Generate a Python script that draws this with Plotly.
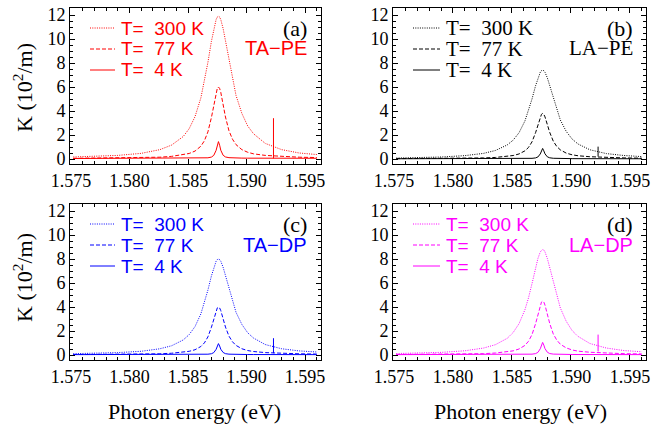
import plotly.graph_objects as go

# Photon energy grid (eV)
X = [1.5752, 1.5770, 1.5790, 1.5810, 1.5826, 1.5836, 1.5846, 1.5851, 1.5856, 1.5861,
     1.5864, 1.5867, 1.5870, 1.5872, 1.5874, 1.5875, 1.5876, 1.5877, 1.5878, 1.5880,
     1.5882, 1.5885, 1.5888, 1.5891, 1.5896, 1.5901, 1.5906, 1.5916, 1.5930, 1.5945, 1.5960]

# (a) TA-PE
A300 = [0.17, 0.21, 0.30, 0.47, 0.78, 1.16, 1.88, 2.53, 3.53, 5.10, 6.43, 8.05, 9.81, 10.87, 11.62, 11.83,
        11.9, 11.83, 11.62, 10.87, 9.85, 8.15, 6.6, 5.3, 3.8, 2.75, 2.1, 1.3, 0.78, 0.5, 0.37]
A77 = [0.06, 0.07, 0.08, 0.11, 0.15, 0.22, 0.34, 0.46, 0.66, 1.07, 1.52, 2.26, 3.46, 4.52, 5.55, 5.88,
       6.0, 5.88, 5.55, 4.55, 3.5, 2.35, 1.65, 1.2, 0.78, 0.56, 0.43, 0.3, 0.2, 0.15, 0.12]
A4 = [0.04, 0.04, 0.045, 0.05, 0.05, 0.055, 0.06, 0.06, 0.065, 0.07, 0.08, 0.1, 0.16, 0.3, 0.72, 1.15,
      1.45, 1.15, 0.73, 0.31, 0.17, 0.11, 0.09, 0.08, 0.075, 0.07, 0.07, 0.065, 0.06, 0.06, 0.06]

# (b) LA-PE
B300 = [0.08, 0.11, 0.165, 0.28, 0.47, 0.71, 1.17, 1.57, 2.19, 3.17, 4.0, 5.0, 6.1, 6.76, 7.23, 7.36,
        7.4, 7.36, 7.23, 6.76, 6.1, 5.05, 4.05, 3.25, 2.3, 1.66, 1.25, 0.77, 0.45, 0.29, 0.2]
B77 = [0.03, 0.035, 0.04, 0.06, 0.09, 0.13, 0.21, 0.29, 0.42, 0.68, 0.96, 1.43, 2.19, 2.86, 3.51, 3.72,
       3.8, 3.72, 3.51, 2.88, 2.22, 1.49, 1.04, 0.76, 0.49, 0.35, 0.27, 0.19, 0.13, 0.09, 0.07]
B4 = [0.02, 0.02, 0.02, 0.022, 0.024, 0.026, 0.028, 0.03, 0.032, 0.036, 0.042, 0.055, 0.09, 0.17, 0.42, 0.68,
      0.88, 0.68, 0.43, 0.18, 0.1, 0.06, 0.045, 0.038, 0.032, 0.03, 0.028, 0.026, 0.024, 0.022, 0.02]

# (c) TA-DP
C300 = [0.11, 0.14, 0.2, 0.31, 0.52, 0.77, 1.26, 1.7, 2.37, 3.43, 4.32, 5.41, 6.59, 7.31, 7.81, 7.95,
        8.0, 7.95, 7.81, 7.31, 6.62, 5.48, 4.44, 3.56, 2.55, 1.85, 1.41, 0.87, 0.52, 0.34, 0.25]
C77 = [0.04, 0.047, 0.053, 0.073, 0.1, 0.147, 0.227, 0.307, 0.44, 0.71, 1.01, 1.51, 2.31, 3.01, 3.7, 3.92,
       4.0, 3.92, 3.7, 3.03, 2.33, 1.57, 1.1, 0.8, 0.52, 0.37, 0.29, 0.2, 0.13, 0.1, 0.08]
C4 = [0.03, 0.03, 0.03, 0.032, 0.034, 0.036, 0.038, 0.04, 0.042, 0.046, 0.052, 0.066, 0.105, 0.2, 0.47, 0.75,
      0.95, 0.75, 0.48, 0.21, 0.11, 0.07, 0.055, 0.048, 0.043, 0.04, 0.038, 0.036, 0.034, 0.032, 0.03]

# (d) LA-DP
D300 = [0.12, 0.155, 0.22, 0.35, 0.58, 0.86, 1.39, 1.87, 2.61, 3.77, 4.75, 5.95, 7.25, 8.04, 8.59, 8.75,
        8.8, 8.75, 8.59, 8.04, 7.28, 6.03, 4.88, 3.92, 2.81, 2.03, 1.55, 0.96, 0.58, 0.37, 0.27]
D77 = [0.045, 0.05, 0.06, 0.08, 0.11, 0.165, 0.255, 0.345, 0.5, 0.8, 1.14, 1.7, 2.6, 3.39, 4.16, 4.41,
       4.5, 4.41, 4.16, 3.41, 2.63, 1.76, 1.24, 0.9, 0.59, 0.42, 0.32, 0.23, 0.15, 0.11, 0.09]
D4 = [0.03, 0.03, 0.03, 0.032, 0.034, 0.036, 0.038, 0.04, 0.043, 0.047, 0.054, 0.07, 0.115, 0.22, 0.52, 0.83,
      1.05, 0.83, 0.53, 0.23, 0.12, 0.075, 0.06, 0.052, 0.046, 0.042, 0.04, 0.038, 0.036, 0.034, 0.032]

# small vertical marker near 1.5923 eV
VX = [1.5923, 1.5923]
AV = [0.05, 3.4]
BV = [0.2, 1.03]
CV = [0.15, 1.4]
DV = [0.3, 1.7]

TEMPS = ["T=\u00a0\u00a0300 K", "T=\u00a0\u00a077 K", "T=\u00a0\u00a04 K"]
PANEL_TAGS = ["(a)", "(b)", "(c)", "(d)"]
PANEL_NAMES = ["TA\u2212PE", "LA\u2212PE", "TA\u2212DP", "LA\u2212DP"]
COLORS = ["#ff0000", "#000000", "#0000ff", "#ff00ff"]

XTICKS = [1.575, 1.580, 1.585, 1.590, 1.595]
XTICKTEXT = ["1.575", "1.580", "1.585", "1.590", "1.595"]
YTICKS = [0, 2, 4, 6, 8, 10, 12]

panels = [
    (A300, A77, A4, AV),
    (B300, B77, B4, BV),
    (C300, C77, C4, CV),
    (D300, D77, D4, DV),
]

SERIF = "Liberation Serif"
SANS = "Liberation Sans"
DOT = "1px,1.3px"
DASH = "4px,2px"

fig = go.Figure()
for i, (y300, y77, y4, yv) in enumerate(panels):
    n = "" if i == 0 else str(i + 1)
    c = COLORS[i]
    for ys, dash, name in [(y300, DOT, TEMPS[0]), (y77, DASH, TEMPS[1]), (y4, "solid", TEMPS[2])]:
        fig.add_trace(go.Scatter(x=X, y=ys, mode="lines", name=name, showlegend=False,
                                 line=dict(color=c, width=1, dash=dash),
                                 xaxis="x" + n, yaxis="y" + n))
    fig.add_trace(go.Scatter(x=VX, y=yv, mode="lines", showlegend=False,
                             line=dict(color=c, width=1), xaxis="x" + n, yaxis="y" + n))

W, H = 657, 427
xdom_l = [70 / W, 321 / W]
xdom_r = [393 / W, 646 / W]
ydom_t = [1 - 164 / H, 1 - 8 / H]
ydom_b = [1 - 360 / H, 1 - 204 / H]

def xaxis(dom, anchor):
    return dict(domain=dom, anchor=anchor, range=[1.57492, 1.59636], automargin=False,
                tickvals=XTICKS, ticktext=XTICKTEXT, ticks="inside", ticklen=5, tickwidth=1,
                tickcolor="black", showline=True, linecolor="black", linewidth=1, mirror="ticks",
                showgrid=False, zeroline=False,
                minor=dict(dtick=0.001, tick0=1.575, ticks="inside", ticklen=3, tickcolor="black", showgrid=False),
                tickfont=dict(family=SERIF, size=18, color="black"))

def yaxis(dom, anchor):
    return dict(domain=dom, anchor=anchor, range=[-0.417, 12.583], automargin=False,
                tickvals=YTICKS, ticks="inside", ticklen=5, tickwidth=1, tickcolor="black",
                showline=True, linecolor="black", linewidth=1, mirror="ticks",
                showgrid=False, zeroline=False,
                minor=dict(dtick=0.5, tick0=0, ticks="inside", ticklen=3, tickcolor="black", showgrid=False),
                tickfont=dict(family=SERIF, size=18, color="black"))

layout = dict(
    template="none",
    width=W, height=H, margin=dict(l=0, r=0, t=0, b=0, autoexpand=False),
    paper_bgcolor="white", plot_bgcolor="white", showlegend=False,
    font=dict(family=SERIF, color="black"),
    xaxis=xaxis(xdom_l, "y"), yaxis=yaxis(ydom_t, "x"),
    xaxis2=xaxis(xdom_r, "y2"), yaxis2=yaxis(ydom_t, "x2"),
    xaxis3=xaxis(xdom_l, "y3"), yaxis3=yaxis(ydom_b, "x3"),
    xaxis4=xaxis(xdom_r, "y4"), yaxis4=yaxis(ydom_b, "x4"),
)
fig.update_layout(**layout)

shapes = []
annotations = []
row_y = [1 - 20 / 156, 1 - 41 / 156, 1 - 62 / 156]
dashes = [DOT, DASH, "solid"]
for i in range(4):
    n = "" if i == 0 else str(i + 1)
    xr = "x" + n + " domain"
    yr = "y" + n + " domain"
    c = COLORS[i]
    left = i in (0, 2)
    pw = 251 if left else 253
    k0, k1, tx = 20 / pw, (45 if left else 47) / pw, (50 if left else 52) / pw
    fam = SERIF if i == 1 else SANS
    fs = 21 if i == 1 else 19
    for r in range(3):
        shapes.append(dict(type="line", xref=xr, yref=yr, x0=k0, x1=k1, y0=row_y[r], y1=row_y[r],
                           line=dict(color=c, width=1, dash=dashes[r])))
        annotations.append(dict(xref=xr, yref=yr, x=tx, y=row_y[r], text=TEMPS[r], showarrow=False,
                                xanchor="left", yanchor="middle", borderpad=0,
                                font=dict(family=fam, size=fs, color=c)))
    rx = (238 if left else 241) / pw
    annotations.append(dict(xref=xr, yref=yr, x=rx, y=row_y[0], text=PANEL_TAGS[i], showarrow=False,
                            xanchor="right", yanchor="middle", borderpad=0,
                            font=dict(family=SERIF, size=22, color="black")))
    annotations.append(dict(xref=xr, yref=yr, x=rx, y=1 - 40.5 / 156, text=PANEL_NAMES[i], showarrow=False,
                            xanchor="right", yanchor="middle", borderpad=0,
                            font=dict(family=fam, size=20 if i != 1 else 21, color=c)))

# axis titles
for yc in [88, 278]:
    annotations.append(dict(xref="paper", yref="paper", x=23 / W, y=1 - yc / H, text="K (10<sup>2</sup>/m)",
                            showarrow=False, textangle=-90, xanchor="center", yanchor="middle",
                            font=dict(family=SERIF, size=22, color="black")))
for xc in [194, 520]:
    annotations.append(dict(xref="paper", yref="paper", x=xc / W, y=1 - 411 / H, text="Photon energy (eV)",
                            showarrow=False, xanchor="center", yanchor="middle",
                            font=dict(family=SERIF, size=22, color="black")))

fig.update_layout(shapes=shapes, annotations=annotations)
fig.write_html("out.html")
